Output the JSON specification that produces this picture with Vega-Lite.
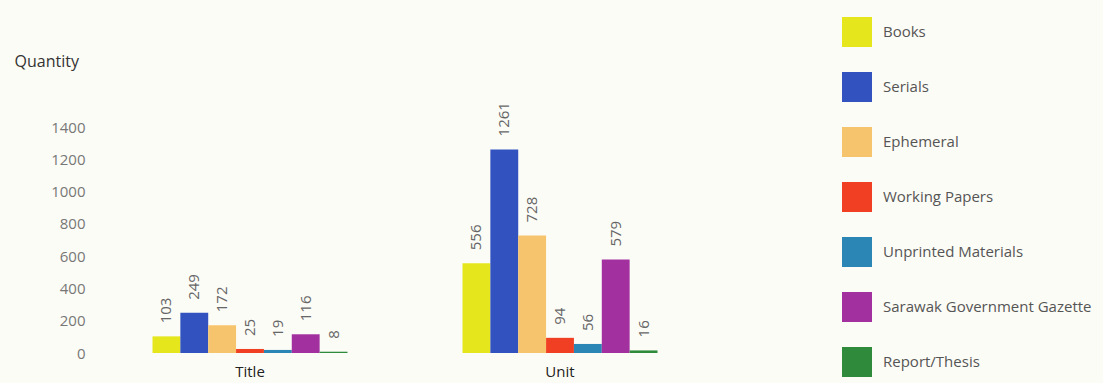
{
  "$schema": "https://vega.github.io/schema/vega-lite/v6.json",
  "width": 630,
  "height": 226,
  "autosize": {"type": "none"},
  "padding": {"left": 90, "top": 127, "right": 383, "bottom": 30},
  "background": "#fcfcf6",
  "config": {
    "view": {"stroke": null},
    "font": "Open Sans"
  },
  "data": {
    "values": [
      {"group": "Title", "type": "Books", "qty": 103},
      {"group": "Title", "type": "Serials", "qty": 249},
      {"group": "Title", "type": "Ephemeral", "qty": 172},
      {"group": "Title", "type": "Working Papers", "qty": 25},
      {"group": "Title", "type": "Unprinted Materials", "qty": 19},
      {"group": "Title", "type": "Sarawak Government Gazette", "qty": 116},
      {"group": "Title", "type": "Report/Thesis", "qty": 8},
      {"group": "Unit", "type": "Books", "qty": 556},
      {"group": "Unit", "type": "Serials", "qty": 1261},
      {"group": "Unit", "type": "Ephemeral", "qty": 728},
      {"group": "Unit", "type": "Working Papers", "qty": 94},
      {"group": "Unit", "type": "Unprinted Materials", "qty": 56},
      {"group": "Unit", "type": "Sarawak Government Gazette", "qty": 579},
      {"group": "Unit", "type": "Report/Thesis", "qty": 16}
    ]
  },
  "encoding": {
    "x": {
      "field": "group",
      "type": "nominal",
      "scale": {"paddingInner": 0.371, "paddingOuter": 0.2016},
      "axis": {
        "title": null,
        "labelAngle": 0,
        "domain": false,
        "ticks": false,
        "labelPadding": 11,
        "labelFontSize": 15,
        "labelColor": "#222222"
      }
    },
    "xOffset": {
      "field": "type",
      "type": "nominal",
      "sort": ["Books", "Serials", "Ephemeral", "Working Papers", "Unprinted Materials", "Sarawak Government Gazette", "Report/Thesis"],
      "scale": {"paddingInner": 0, "paddingOuter": 0}
    },
    "y": {
      "field": "qty",
      "type": "quantitative",
      "scale": {"domain": [0, 1400]},
      "axis": {
        "title": "Quantity",
        "titleAngle": 0,
        "titleAlign": "left",
        "titleBaseline": "middle",
        "titleX": -76,
        "titleY": -66,
        "titleFontSize": 16,
        "titleFontWeight": "normal",
        "titleColor": "#333333",
        "values": [0, 200, 400, 600, 800, 1000, 1200, 1400],
        "format": "d",
        "domain": false,
        "ticks": false,
        "grid": false,
        "labelPadding": 5,
        "labelFontSize": 15,
        "labelColor": "#777777"
      }
    }
  },
  "layer": [
    {
      "mark": {"type": "bar"},
      "encoding": {
        "color": {
          "field": "type",
          "type": "nominal",
          "sort": ["Books", "Serials", "Ephemeral", "Working Papers", "Unprinted Materials", "Sarawak Government Gazette", "Report/Thesis"],
          "scale": {
            "domain": ["Books", "Serials", "Ephemeral", "Working Papers", "Unprinted Materials", "Sarawak Government Gazette", "Report/Thesis"],
            "range": ["#e6e61c", "#3152bf", "#f7c46e", "#f03f22", "#2b85b5", "#a2319f", "#2f8a3c"]
          },
          "legend": {
            "title": null,
            "orient": "none",
            "legendX": 752,
            "legendY": -110,
            "symbolType": "square",
            "symbolSize": 900,
            "symbolStrokeWidth": 0,
            "symbolOpacity": 1,
            "rowPadding": 25,
            "labelOffset": 11,
            "labelFontSize": 15,
            "labelColor": "#555555",
            "labelLimit": 300
          }
        }
      }
    },
    {
      "mark": {"type": "text", "angle": 270, "align": "left", "baseline": "middle", "dx": 13, "fontSize": 15, "color": "#666666"},
      "encoding": {
        "text": {"field": "qty", "type": "quantitative"}
      }
    }
  ]
}
